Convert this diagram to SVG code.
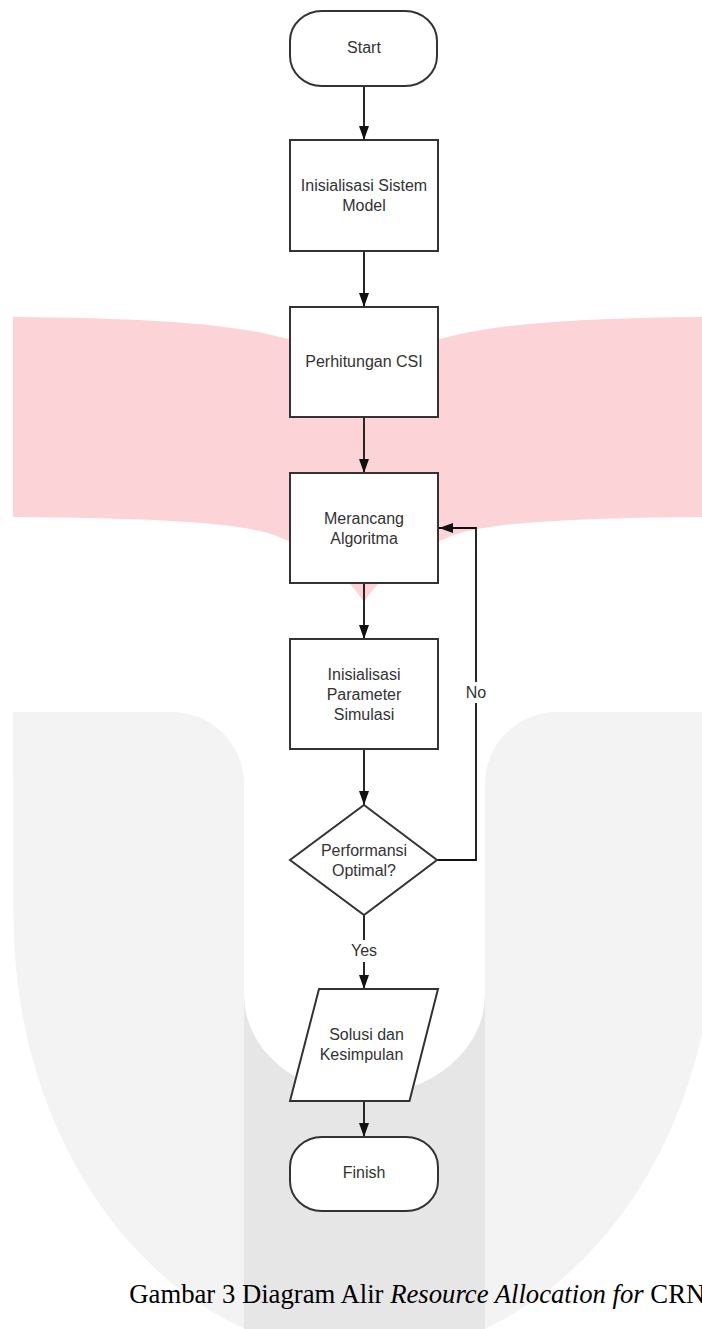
<svg xmlns="http://www.w3.org/2000/svg" width="702" height="1329" viewBox="0 0 702 1329">
<style>
.nd{fill:#fff;stroke:#333;stroke-width:2}
.t{font-family:"Liberation Sans",Arial,sans-serif;font-size:16px;fill:#333;text-anchor:middle}
.ln{fill:none;stroke:#111;stroke-width:1.8}
.cap{font-family:"Liberation Serif","Times New Roman",serif;font-size:26.7px;fill:#000}
</style>
<defs>
<marker id="ah" markerWidth="14" markerHeight="10" refX="14" refY="5" orient="auto" markerUnits="userSpaceOnUse">
<path d="M0,0 L14,5 L0,10 Z" fill="#111"/>
</marker>
</defs>
<rect width="702" height="1329" fill="#fff"/>
<g id="watermark">
<path d="M13,317 C150,318 230,324 280,337 Q364,362 448,337 C498,324 578,318 702,317 L702,517 C580,518 500,522 460,533 C420,546 385,570 364,602 C343,570 308,546 268,533 C228,522 148,518 13,517 Z" fill="#fcd4d7"/>
<path d="M13,712 L172,712 A72,72 0 0 1 244,784 L244,995 A120.5,100 0 0 0 485,995 L485,784 A72,72 0 0 1 557,712 L702,712 L702,1034 A351,439 0 0 1 484,1329 L245,1329 A351,439 0 0 1 13.5,916 Z" fill="#f3f3f3"/>
<path d="M244,995 A120.5,100 0 0 0 485,995 L485,1329 L244,1329 Z" fill="#e6e6e6"/>
</g>
<g id="connectors">
<path class="ln" d="M364,86 V140" marker-end="url(#ah)"/>
<path class="ln" d="M364,251 V307" marker-end="url(#ah)"/>
<path class="ln" d="M364,417 V473" marker-end="url(#ah)"/>
<path class="ln" d="M364,583 V639" marker-end="url(#ah)"/>
<path class="ln" d="M364,749 V805" marker-end="url(#ah)"/>
<path class="ln" d="M364,915 V940 M364,962 V989" marker-end="url(#ah)"/>
<path class="ln" d="M364,1101 V1137" marker-end="url(#ah)"/>
<path class="ln" d="M437,860 H476 V703 M476,682 V528 H439" marker-end="url(#ah)"/>
<text class="t" x="364" y="956">Yes</text>
<text class="t" x="476" y="698">No</text>
</g>
<g id="start">
<rect class="nd" x="290" y="11" width="147" height="75" rx="32" ry="30"/>
<text class="t" x="364" y="52.5">Start</text>
</g>
<g id="init-sistem">
<rect class="nd" x="290" y="140" width="148" height="111"/>
<text class="t" x="364" y="191">Inisialisasi Sistem</text>
<text class="t" x="364" y="211">Model</text>
</g>
<g id="csi">
<rect class="nd" x="290" y="307" width="148" height="110"/>
<text class="t" x="364" y="367">Perhitungan CSI</text>
</g>
<g id="algoritma">
<rect class="nd" x="290" y="473" width="148" height="110"/>
<text class="t" x="364" y="524">Merancang</text>
<text class="t" x="364" y="544">Algoritma</text>
</g>
<g id="init-param">
<rect class="nd" x="290" y="639" width="148" height="110"/>
<text class="t" x="364" y="680">Inisialisasi</text>
<text class="t" x="364" y="700">Parameter</text>
<text class="t" x="364" y="720">Simulasi</text>
</g>
<g id="decision">
<polygon class="nd" points="364,805 437,860 364,915 290,860"/>
<text class="t" x="364" y="856">Performansi</text>
<text class="t" x="364" y="876">Optimal?</text>
</g>
<g id="solusi">
<polygon class="nd" points="319,989 438,989 409.5,1101 290,1101"/>
<text class="t" x="366.5" y="1040">Solusi dan</text>
<text class="t" x="361.5" y="1060">Kesimpulan</text>
</g>
<g id="finish">
<rect class="nd" x="290" y="1137" width="148" height="74" rx="32" ry="30"/>
<text class="t" x="364" y="1177.5">Finish</text>
</g>
<text class="cap" x="129.3" y="1303">Gambar 3 Diagram Alir <tspan font-style="italic">Resource Allocation for</tspan> CRN</text>
</svg>
